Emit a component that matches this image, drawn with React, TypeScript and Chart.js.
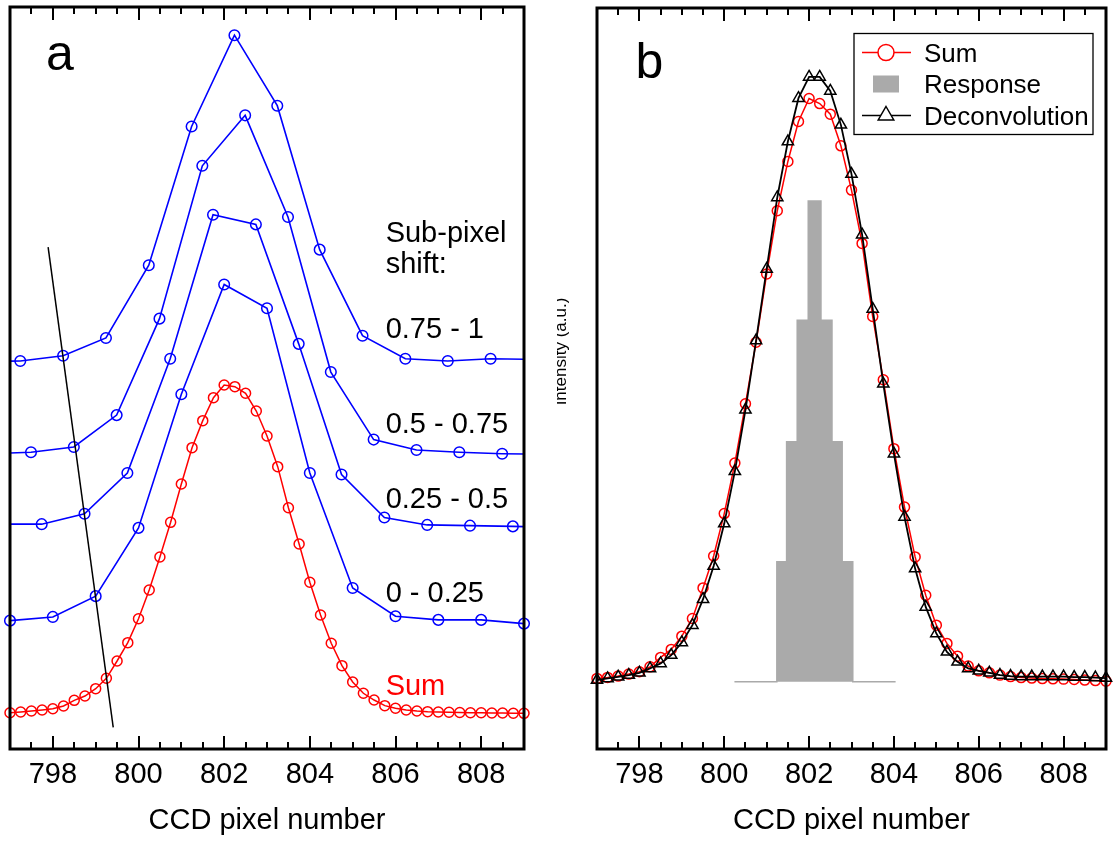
import React, { useEffect, useRef } from "react";
import { Chart, registerables } from "chart.js";
Chart.register(...registerables);

const FONT = '"Liberation Sans", Arial, Helvetica, sans-serif';

// ---------------- Panel a data ----------------
const shift075X = [796.24, 797.24, 798.24, 799.24, 800.24, 801.24, 802.24, 803.24, 804.23, 805.23, 806.23, 807.22, 808.22, 809.22];
const shift075Y = [52.2, 52.3, 53.0, 55.4, 65.2, 83.9, 96.2, 86.7, 67.3, 55.7, 52.6, 52.3, 52.6, 52.5];

const shift05X = [796.49, 797.49, 798.49, 799.49, 800.49, 801.49, 802.49, 803.49, 804.49, 805.49, 806.49, 807.49, 808.49, 809.49];
const shift05Y = [39.8, 40.0, 40.7, 45.0, 58.0, 78.6, 85.4, 71.7, 50.8, 41.7, 40.3, 40.0, 39.8, 39.7];

const shift025X = [796.74, 797.74, 798.74, 799.74, 800.74, 801.74, 802.74, 803.74, 804.74, 805.74, 806.74, 807.74, 808.74, 809.74];
const shift025Y = [30.3, 30.3, 31.7, 37.2, 52.6, 72.0, 70.7, 54.6, 37.0, 31.2, 30.2, 30.1, 30.0, 29.9];

const shift0X = [797, 798, 799, 800, 801, 802, 803, 804, 805, 806, 807, 808, 809];
const shift0Y = [17.3, 17.8, 20.6, 29.8, 47.8, 62.6, 59.4, 37.2, 21.7, 17.9, 17.4, 17.4, 16.9];

const sumX = [
  797, 797.25, 797.5, 797.75, 798, 798.25, 798.5, 798.75, 799, 799.25, 799.5, 799.75,
  800, 800.25, 800.5, 800.75, 801, 801.25, 801.5, 801.75, 802, 802.25, 802.5, 802.75,
  803, 803.25, 803.5, 803.75, 804, 804.25, 804.5, 804.75, 805, 805.25, 805.5, 805.75,
  806, 806.25, 806.5, 806.75, 807, 807.25, 807.5, 807.75, 808, 808.25, 808.5, 808.75, 809,
];
const sumAY = [
  4.89, 4.99, 5.12, 5.26, 5.43, 5.8, 6.56, 7.14, 8.13, 9.53, 11.86, 14.33,
  17.56, 21.43, 25.88, 30.55, 35.71, 40.61, 44.25, 47.35, 49.06, 48.83, 47.94, 45.55,
  42.18, 38.05, 32.52, 27.63, 22.47, 18.06, 14.25, 11.23, 9.03, 7.51, 6.6, 5.84,
  5.49, 5.26, 5.12, 5.03, 4.99, 4.95, 4.92, 4.89, 4.88, 4.85, 4.85, 4.82, 4.81,
];

const guideX = [797.89, 799.41];
const guideY = [67.65, 2.92];

const annotationTextsA = ["Sub-pixel", "shift:", "0.75 - 1", "0.5 - 0.75", "0.25 - 0.5", "0 - 0.25", "Sum"];

// ---------------- Panel b data ----------------
const sumBY = [
  9.53, 9.66, 9.84, 10.11, 10.42, 11.09, 12.36, 13.44, 15.23, 17.61, 21.74, 26.05,
  31.77, 38.58, 46.59, 54.89, 64.11, 72.64, 79.29, 84.68, 87.78, 87.1, 85.67, 81.4,
  75.43, 68.23, 58.36, 49.83, 40.53, 32.65, 25.92, 20.75, 16.71, 14.25, 12.53, 11.19,
  10.55, 10.28, 9.97, 9.77, 9.64, 9.57, 9.5, 9.47, 9.43, 9.39, 9.3, 9.23, 9.16,
];
const deconvY = [
  9.3, 9.53, 9.74, 9.97, 10.28, 10.88, 11.55, 12.67, 14.38, 16.71, 20.22, 24.7,
  30.42, 37.47, 45.78, 55.12, 64.78, 74.43, 81.98, 87.83, 90.7, 90.7, 88.81, 84.23,
  77.59, 69.41, 59.39, 49.29, 39.85, 31.31, 24.35, 19.18, 15.59, 13.11, 11.77, 10.88,
  10.55, 10.28, 9.97, 9.84, 9.77, 9.77, 9.77, 9.77, 9.77, 9.7, 9.7, 9.64, 9.57,
];
const responseEdges = [800.24, 801.24, 801.47, 801.72, 801.98, 802.28, 802.54, 802.78, 803.03, 804.04];
const responseHeights = [0, 16.2, 32.4, 48.8, 64.9, 48.8, 32.4, 16.2, 0];
const responseBase = 9.07;

const labelTicks = [798, 800, 802, 804, 806, 808];
const X_MIN = 797;
const X_MAX = 809;

// ---------------- helpers ----------------
const toPts = (xs: number[], ys: number[]) => xs.map((x, i) => ({ x, y: ys[i] }));
const inRange = (p: { x: number }) => p.x >= X_MIN - 1e-9 && p.x <= X_MAX + 1e-9;

function seriesSets(xs: number[], ys: number[], color: string, opts: { lw: number; r: number; style: string; order: number }) {
  const data = toPts(xs, ys);
  return [
    {
      data,
      showLine: true,
      borderColor: color,
      borderWidth: opts.lw,
      pointRadius: 0,
      fill: false,
      tension: 0,
      clip: 0,
      order: opts.order + 1,
    },
    {
      data: data.filter(inRange),
      showLine: false,
      pointRadius: opts.r,
      pointStyle: opts.style,
      pointBorderColor: color,
      pointBackgroundColor: "rgba(0,0,0,0)",
      pointBorderWidth: 1.5,
      clip: false,
      order: opts.order,
    },
  ];
}

function xScale() {
  return {
    type: "linear",
    min: X_MIN,
    max: X_MAX,
    grid: { display: false, drawTicks: false },
    border: { display: false },
    afterBuildTicks: (s: any) => {
      s.ticks = labelTicks.map((v) => ({ value: v }));
    },
    afterFit: (s: any) => {
      s.height = 94;
    },
    ticks: {
      font: { family: FONT, size: 29 },
      color: "#000",
      padding: 9,
      maxRotation: 0,
      autoSkip: false,
      callback: (v: any) => String(v),
    },
    title: {
      display: true,
      text: "CCD pixel number",
      font: { family: FONT, size: 29 },
      color: "#000",
      padding: { top: 0, bottom: 5 },
    },
  };
}

function framePlugin(extra: (chart: any) => void) {
  return {
    id: "frameDeco",
    afterDraw(chart: any) {
      const { ctx, chartArea: a, scales } = chart;
      const xs = scales.x;
      ctx.save();
      ctx.strokeStyle = "#000";
      ctx.lineWidth = 2;
      ctx.beginPath();
      for (let v = X_MIN; v <= X_MAX + 1e-9; v += 0.5) {
        const px = Math.round(xs.getPixelForValue(v));
        const len = labelTicks.includes(v) ? 13 : 7;
        ctx.moveTo(px, a.bottom);
        ctx.lineTo(px, a.bottom - len);
        ctx.moveTo(px, a.top);
        ctx.lineTo(px, a.top + len);
      }
      ctx.stroke();
      ctx.lineWidth = 3;
      ctx.strokeRect(a.left, a.top, a.right - a.left, a.bottom - a.top);
      ctx.restore();
      ctx.save();
      extra(chart);
      ctx.restore();
    },
  };
}

function baseOptions(padLeft: number, padRight: number) {
  return {
    responsive: false,
    animation: false,
    events: [],
    layout: { padding: { left: padLeft, right: padRight, top: 7, bottom: 0 } },
    plugins: { legend: { display: false }, tooltip: { enabled: false } },
    scales: {
      x: xScale(),
      y: { type: "linear", min: 0, max: 100, display: false },
    },
  };
}

export default function App() {
  const refA = useRef<HTMLCanvasElement>(null);
  const refB = useRef<HTMLCanvasElement>(null);

  useEffect(() => {
    const BLUE = "#0000FF";
    const RED = "#FF0000";

    // ---------- Panel a ----------
    const dsA: any[] = [
      {
        data: toPts(guideX, guideY),
        showLine: true,
        borderColor: "#000",
        borderWidth: 1.5,
        pointRadius: 0,
        clip: 0,
        order: 0,
      },
      ...seriesSets(shift075X, shift075Y, BLUE, { lw: 1.6, r: 5.3, style: "circle", order: 2 }),
      ...seriesSets(shift05X, shift05Y, BLUE, { lw: 1.6, r: 5.3, style: "circle", order: 4 }),
      ...seriesSets(shift025X, shift025Y, BLUE, { lw: 1.6, r: 5.3, style: "circle", order: 6 }),
      ...seriesSets(shift0X, shift0Y, BLUE, { lw: 1.6, r: 5.3, style: "circle", order: 8 }),
      ...seriesSets(sumX, sumAY, RED, { lw: 1.5, r: 5, style: "circle", order: 10 }),
    ];

    const annotA = (chart: any) => {
      const { ctx, scales } = chart;
      const xs = scales.x;
      const ys = scales.y;
      ctx.textAlign = "left";
      ctx.textBaseline = "alphabetic";
      ctx.fillStyle = "#000";
      ctx.font = `50px ${FONT}`;
      ctx.fillText("a", xs.getPixelForValue(797.84), ys.getPixelForValue(91.51));
      const ax = xs.getPixelForValue(805.77);
      const ay = [68.33, 64.15, 55.39, 42.59, 32.48, 19.81, 7.28];
      ctx.font = `29px ${FONT}`;
      annotationTextsA.forEach((t, i) => {
        ctx.fillStyle = t === "Sum" ? RED : "#000";
        ctx.fillText(t, ax, ys.getPixelForValue(ay[i]));
      });
    };

    const chartA = new Chart(refA.current as HTMLCanvasElement, {
      type: "scatter",
      data: { datasets: dsA },
      options: baseOptions(10, 33) as any,
      plugins: [framePlugin(annotA)],
    });

    // ---------- Panel b ----------
    const respPts: { x: number; y: number }[] = [];
    responseHeights.forEach((h, i) => {
      respPts.push({ x: responseEdges[i], y: responseBase + h });
      respPts.push({ x: responseEdges[i + 1], y: responseBase + h });
    });
    const GRAY = "#AAAAAA";

    const dsB: any[] = [
      ...seriesSets(sumX, deconvY, "#000", { lw: 1.8, r: 6.5, style: "triangle", order: 0 }),
      ...seriesSets(sumX, sumBY, RED, { lw: 1.5, r: 5, style: "circle", order: 2 }),
      {
        data: respPts,
        showLine: true,
        borderColor: GRAY,
        backgroundColor: GRAY,
        borderWidth: 1.5,
        pointRadius: 0,
        fill: { value: responseBase },
        order: 10,
      },
    ];

    const annotB = (chart: any) => {
      const { ctx, scales, chartArea: a } = chart;
      const xs = scales.x;
      const ys = scales.y;
      ctx.fillStyle = "#000";
      ctx.textAlign = "left";
      ctx.textBaseline = "alphabetic";
      ctx.font = `50px ${FONT}`;
      ctx.fillText("b", xs.getPixelForValue(797.91), ys.getPixelForValue(90.57));

      // y axis title
      ctx.save();
      ctx.translate(a.left - 31, (a.top + a.bottom) / 2 - 27);
      ctx.rotate(-Math.PI / 2);
      ctx.textAlign = "center";
      ctx.font = `17px ${FONT}`;
      ctx.fillText("Intensity (a.u.)", 0, 0);
      ctx.restore();

      // legend
      const bx = a.right - 252;
      const by = a.top + 25.5;
      ctx.lineWidth = 1.3;
      ctx.strokeStyle = "#000";
      ctx.strokeRect(bx, by, 239, 101);
      const sx0 = bx + 8;
      const sx1 = bx + 57;
      const mx = bx + 32;
      const rows = [by + 19, by + 50.5, by + 82];
      // Sum
      ctx.strokeStyle = RED;
      ctx.lineWidth = 1.5;
      ctx.beginPath();
      ctx.moveTo(sx0, rows[0]);
      ctx.lineTo(sx1, rows[0]);
      ctx.stroke();
      ctx.beginPath();
      ctx.arc(mx, rows[0], 8, 0, Math.PI * 2);
      ctx.fillStyle = "#fff";
      ctx.fill();
      ctx.stroke();
      // Response
      ctx.fillStyle = GRAY;
      ctx.fillRect(mx - 13, rows[1] - 8.5, 26, 17);
      // Deconvolution
      ctx.strokeStyle = "#000";
      ctx.lineWidth = 1.5;
      ctx.beginPath();
      ctx.moveTo(sx0, rows[2]);
      ctx.lineTo(sx1, rows[2]);
      ctx.stroke();
      const r = 9;
      ctx.beginPath();
      ctx.moveTo(mx, rows[2] - r);
      ctx.lineTo(mx + r * 0.866, rows[2] + r * 0.5);
      ctx.lineTo(mx - r * 0.866, rows[2] + r * 0.5);
      ctx.closePath();
      ctx.fillStyle = "#fff";
      ctx.fill();
      ctx.stroke();
      // texts
      ctx.fillStyle = "#000";
      ctx.font = `26px ${FONT}`;
      const tx = bx + 70;
      ["Sum", "Response", "Deconvolution"].forEach((t, i) => ctx.fillText(t, tx, rows[i] + 9));
    };

    const chartB = new Chart(refB.current as HTMLCanvasElement, {
      type: "scatter",
      data: { datasets: dsB },
      options: baseOptions(40, 2) as any,
      plugins: [framePlugin(annotB)],
    });

    return () => {
      chartA.destroy();
      chartB.destroy();
    };
  }, []);

  return (
    <div style={{ position: "absolute", left: 0, top: 0, width: 1114, height: 843, background: "#fff" }}>
      <div style={{ position: "absolute", left: 0, top: 0, width: 557, height: 843 }}>
        <canvas ref={refA} width={557} height={843} />
      </div>
      <div style={{ position: "absolute", left: 557, top: 0, width: 557, height: 843 }}>
        <canvas ref={refB} width={557} height={843} />
      </div>
    </div>
  );
}
